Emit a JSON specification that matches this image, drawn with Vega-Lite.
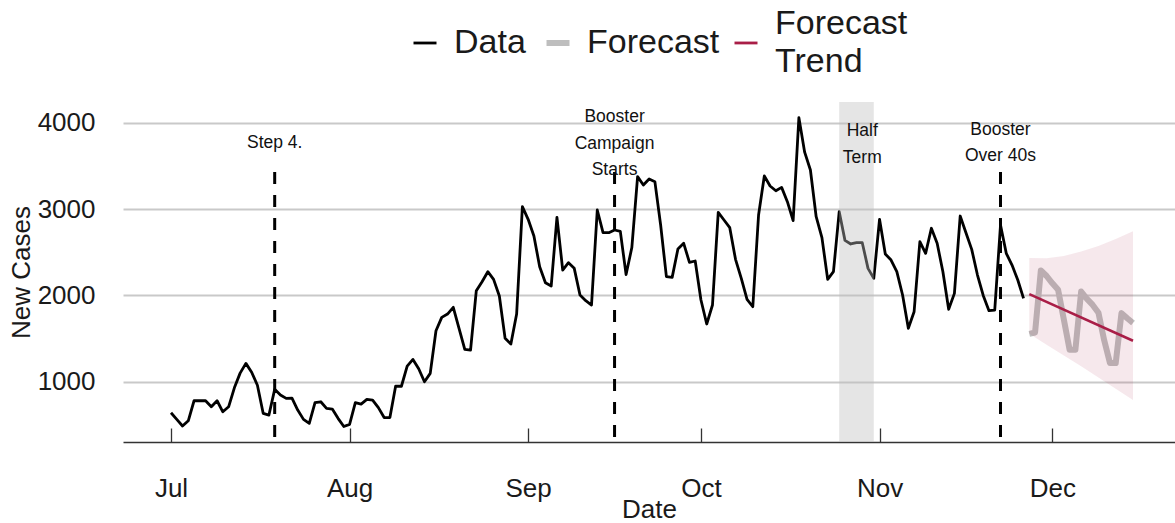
{
  "$schema": "https://vega.github.io/schema/vega-lite/v6.json",
  "width": 1052,
  "height": 340,
  "autosize": {"type": "none"},
  "padding": {"left": 123, "top": 102, "right": 0, "bottom": 81},
  "background": "white",
  "config": {
    "font": "Liberation Sans",
    "view": {"stroke": null},
    "axis": {"labelFont": "Liberation Sans", "titleFont": "Liberation Sans", "titleFontWeight": "normal", "labelColor": "#1a1a1a", "titleColor": "#1a1a1a"},
    "legend": {"labelFont": "Liberation Sans", "labelColor": "#1a1a1a"}
  },
  "datasets": {
    "lines": [
      {"date": "2021-07-01", "cases": 641, "series": "Data"},
      {"date": "2021-07-02", "cases": 565, "series": "Data"},
      {"date": "2021-07-03", "cases": 487, "series": "Data"},
      {"date": "2021-07-04", "cases": 548, "series": "Data"},
      {"date": "2021-07-05", "cases": 780, "series": "Data"},
      {"date": "2021-07-06", "cases": 780, "series": "Data"},
      {"date": "2021-07-07", "cases": 780, "series": "Data"},
      {"date": "2021-07-08", "cases": 710, "series": "Data"},
      {"date": "2021-07-09", "cases": 780, "series": "Data"},
      {"date": "2021-07-10", "cases": 652, "series": "Data"},
      {"date": "2021-07-11", "cases": 710, "series": "Data"},
      {"date": "2021-07-12", "cases": 930, "series": "Data"},
      {"date": "2021-07-13", "cases": 1100, "series": "Data"},
      {"date": "2021-07-14", "cases": 1213, "series": "Data"},
      {"date": "2021-07-15", "cases": 1110, "series": "Data"},
      {"date": "2021-07-16", "cases": 960, "series": "Data"},
      {"date": "2021-07-17", "cases": 634, "series": "Data"},
      {"date": "2021-07-18", "cases": 614, "series": "Data"},
      {"date": "2021-07-19", "cases": 912, "series": "Data"},
      {"date": "2021-07-20", "cases": 846, "series": "Data"},
      {"date": "2021-07-21", "cases": 807, "series": "Data"},
      {"date": "2021-07-22", "cases": 811, "series": "Data"},
      {"date": "2021-07-23", "cases": 672, "series": "Data"},
      {"date": "2021-07-24", "cases": 564, "series": "Data"},
      {"date": "2021-07-25", "cases": 518, "series": "Data"},
      {"date": "2021-07-26", "cases": 757, "series": "Data"},
      {"date": "2021-07-27", "cases": 768, "series": "Data"},
      {"date": "2021-07-28", "cases": 691, "series": "Data"},
      {"date": "2021-07-29", "cases": 684, "series": "Data"},
      {"date": "2021-07-30", "cases": 576, "series": "Data"},
      {"date": "2021-07-31", "cases": 481, "series": "Data"},
      {"date": "2021-08-01", "cases": 506, "series": "Data"},
      {"date": "2021-08-02", "cases": 757, "series": "Data"},
      {"date": "2021-08-03", "cases": 741, "series": "Data"},
      {"date": "2021-08-04", "cases": 796, "series": "Data"},
      {"date": "2021-08-05", "cases": 788, "series": "Data"},
      {"date": "2021-08-06", "cases": 700, "series": "Data"},
      {"date": "2021-08-07", "cases": 585, "series": "Data"},
      {"date": "2021-08-08", "cases": 585, "series": "Data"},
      {"date": "2021-08-09", "cases": 950, "series": "Data"},
      {"date": "2021-08-10", "cases": 948, "series": "Data"},
      {"date": "2021-08-11", "cases": 1180, "series": "Data"},
      {"date": "2021-08-12", "cases": 1259, "series": "Data"},
      {"date": "2021-08-13", "cases": 1150, "series": "Data"},
      {"date": "2021-08-14", "cases": 1000, "series": "Data"},
      {"date": "2021-08-15", "cases": 1097, "series": "Data"},
      {"date": "2021-08-16", "cases": 1591, "series": "Data"},
      {"date": "2021-08-17", "cases": 1746, "series": "Data"},
      {"date": "2021-08-18", "cases": 1784, "series": "Data"},
      {"date": "2021-08-19", "cases": 1862, "series": "Data"},
      {"date": "2021-08-20", "cases": 1619, "series": "Data"},
      {"date": "2021-08-21", "cases": 1375, "series": "Data"},
      {"date": "2021-08-22", "cases": 1367, "series": "Data"},
      {"date": "2021-08-23", "cases": 2055, "series": "Data"},
      {"date": "2021-08-24", "cases": 2159, "series": "Data"},
      {"date": "2021-08-25", "cases": 2275, "series": "Data"},
      {"date": "2021-08-26", "cases": 2186, "series": "Data"},
      {"date": "2021-08-27", "cases": 1993, "series": "Data"},
      {"date": "2021-08-28", "cases": 1503, "series": "Data"},
      {"date": "2021-08-29", "cases": 1437, "series": "Data"},
      {"date": "2021-08-30", "cases": 1784, "series": "Data"},
      {"date": "2021-08-31", "cases": 3028, "series": "Data"},
      {"date": "2021-09-01", "cases": 2882, "series": "Data"},
      {"date": "2021-09-02", "cases": 2688, "series": "Data"},
      {"date": "2021-09-03", "cases": 2333, "series": "Data"},
      {"date": "2021-09-04", "cases": 2147, "series": "Data"},
      {"date": "2021-09-05", "cases": 2109, "series": "Data"},
      {"date": "2021-09-06", "cases": 2905, "series": "Data"},
      {"date": "2021-09-07", "cases": 2294, "series": "Data"},
      {"date": "2021-09-08", "cases": 2379, "series": "Data"},
      {"date": "2021-09-09", "cases": 2314, "series": "Data"},
      {"date": "2021-09-10", "cases": 2005, "series": "Data"},
      {"date": "2021-09-11", "cases": 1939, "series": "Data"},
      {"date": "2021-09-12", "cases": 1889, "series": "Data"},
      {"date": "2021-09-13", "cases": 2990, "series": "Data"},
      {"date": "2021-09-14", "cases": 2727, "series": "Data"},
      {"date": "2021-09-15", "cases": 2727, "series": "Data"},
      {"date": "2021-09-16", "cases": 2758, "series": "Data"},
      {"date": "2021-09-17", "cases": 2742, "series": "Data"},
      {"date": "2021-09-18", "cases": 2242, "series": "Data"},
      {"date": "2021-09-19", "cases": 2555, "series": "Data"},
      {"date": "2021-09-20", "cases": 3376, "series": "Data"},
      {"date": "2021-09-21", "cases": 3279, "series": "Data"},
      {"date": "2021-09-22", "cases": 3349, "series": "Data"},
      {"date": "2021-09-23", "cases": 3318, "series": "Data"},
      {"date": "2021-09-24", "cases": 2816, "series": "Data"},
      {"date": "2021-09-25", "cases": 2217, "series": "Data"},
      {"date": "2021-09-26", "cases": 2209, "series": "Data"},
      {"date": "2021-09-27", "cases": 2538, "series": "Data"},
      {"date": "2021-09-28", "cases": 2604, "series": "Data"},
      {"date": "2021-09-29", "cases": 2383, "series": "Data"},
      {"date": "2021-09-30", "cases": 2399, "series": "Data"},
      {"date": "2021-10-01", "cases": 1947, "series": "Data"},
      {"date": "2021-10-02", "cases": 1669, "series": "Data"},
      {"date": "2021-10-03", "cases": 1889, "series": "Data"},
      {"date": "2021-10-04", "cases": 2963, "series": "Data"},
      {"date": "2021-10-05", "cases": 2874, "series": "Data"},
      {"date": "2021-10-06", "cases": 2785, "series": "Data"},
      {"date": "2021-10-07", "cases": 2418, "series": "Data"},
      {"date": "2021-10-08", "cases": 2198, "series": "Data"},
      {"date": "2021-10-09", "cases": 1955, "series": "Data"},
      {"date": "2021-10-10", "cases": 1869, "series": "Data"},
      {"date": "2021-10-11", "cases": 2932, "series": "Data"},
      {"date": "2021-10-12", "cases": 3384, "series": "Data"},
      {"date": "2021-10-13", "cases": 3268, "series": "Data"},
      {"date": "2021-10-14", "cases": 3213, "series": "Data"},
      {"date": "2021-10-15", "cases": 3252, "series": "Data"},
      {"date": "2021-10-16", "cases": 3086, "series": "Data"},
      {"date": "2021-10-17", "cases": 2866, "series": "Data"},
      {"date": "2021-10-18", "cases": 4060, "series": "Data"},
      {"date": "2021-10-19", "cases": 3660, "series": "Data"},
      {"date": "2021-10-20", "cases": 3453, "series": "Data"},
      {"date": "2021-10-21", "cases": 2912, "series": "Data"},
      {"date": "2021-10-22", "cases": 2670, "series": "Data"},
      {"date": "2021-10-23", "cases": 2186, "series": "Data"},
      {"date": "2021-10-24", "cases": 2275, "series": "Data"},
      {"date": "2021-10-25", "cases": 2970, "series": "Data"},
      {"date": "2021-10-26", "cases": 2638, "series": "Data"},
      {"date": "2021-10-27", "cases": 2596, "series": "Data"},
      {"date": "2021-10-28", "cases": 2611, "series": "Data"},
      {"date": "2021-10-29", "cases": 2611, "series": "Data"},
      {"date": "2021-10-30", "cases": 2314, "series": "Data"},
      {"date": "2021-10-31", "cases": 2198, "series": "Data"},
      {"date": "2021-11-01", "cases": 2882, "series": "Data"},
      {"date": "2021-11-02", "cases": 2480, "series": "Data"},
      {"date": "2021-11-03", "cases": 2410, "series": "Data"},
      {"date": "2021-11-04", "cases": 2275, "series": "Data"},
      {"date": "2021-11-05", "cases": 2005, "series": "Data"},
      {"date": "2021-11-06", "cases": 1619, "series": "Data"},
      {"date": "2021-11-07", "cases": 1811, "series": "Data"},
      {"date": "2021-11-08", "cases": 2622, "series": "Data"},
      {"date": "2021-11-09", "cases": 2488, "series": "Data"},
      {"date": "2021-11-10", "cases": 2778, "series": "Data"},
      {"date": "2021-11-11", "cases": 2604, "series": "Data"},
      {"date": "2021-11-12", "cases": 2275, "series": "Data"},
      {"date": "2021-11-13", "cases": 1839, "series": "Data"},
      {"date": "2021-11-14", "cases": 2024, "series": "Data"},
      {"date": "2021-11-15", "cases": 2920, "series": "Data"},
      {"date": "2021-11-16", "cases": 2727, "series": "Data"},
      {"date": "2021-11-17", "cases": 2534, "series": "Data"},
      {"date": "2021-11-18", "cases": 2236, "series": "Data"},
      {"date": "2021-11-19", "cases": 2000, "series": "Data"},
      {"date": "2021-11-20", "cases": 1823, "series": "Data"},
      {"date": "2021-11-21", "cases": 1831, "series": "Data"},
      {"date": "2021-11-22", "cases": 2816, "series": "Data"},
      {"date": "2021-11-23", "cases": 2488, "series": "Data"},
      {"date": "2021-11-24", "cases": 2352, "series": "Data"},
      {"date": "2021-11-25", "cases": 2179, "series": "Data"},
      {"date": "2021-11-26", "cases": 1966, "series": "Data"},
      {"date": "2021-11-27", "cases": 1555, "series": "Forecast"},
      {"date": "2021-11-28", "cases": 1570, "series": "Forecast"},
      {"date": "2021-11-29", "cases": 2290, "series": "Forecast"},
      {"date": "2021-11-30", "cases": 2225, "series": "Forecast"},
      {"date": "2021-12-01", "cases": 2140, "series": "Forecast"},
      {"date": "2021-12-02", "cases": 2065, "series": "Forecast"},
      {"date": "2021-12-03", "cases": 1720, "series": "Forecast"},
      {"date": "2021-12-04", "cases": 1370, "series": "Forecast"},
      {"date": "2021-12-05", "cases": 1370, "series": "Forecast"},
      {"date": "2021-12-06", "cases": 2045, "series": "Forecast"},
      {"date": "2021-12-07", "cases": 1960, "series": "Forecast"},
      {"date": "2021-12-08", "cases": 1890, "series": "Forecast"},
      {"date": "2021-12-09", "cases": 1800, "series": "Forecast"},
      {"date": "2021-12-10", "cases": 1480, "series": "Forecast"},
      {"date": "2021-12-11", "cases": 1216, "series": "Forecast"},
      {"date": "2021-12-12", "cases": 1216, "series": "Forecast"},
      {"date": "2021-12-13", "cases": 1795, "series": "Forecast"},
      {"date": "2021-12-14", "cases": 1735, "series": "Forecast"},
      {"date": "2021-12-15", "cases": 1680, "series": "Forecast"}
    ],
    "trend": [
      {"date": "2021-11-27", "cases": 2015, "series": "Forecast Trend"},
      {"date": "2021-12-15", "cases": 1475, "series": "Forecast Trend"}
    ],
    "band": [
      {"date": "2021-11-27", "lower": 1555, "upper": 2433},
      {"date": "2021-11-30", "lower": 1430, "upper": 2432},
      {"date": "2021-12-03", "lower": 1305, "upper": 2458},
      {"date": "2021-12-06", "lower": 1180, "upper": 2508},
      {"date": "2021-12-09", "lower": 1050, "upper": 2574},
      {"date": "2021-12-12", "lower": 920, "upper": 2655},
      {"date": "2021-12-15", "lower": 790, "upper": 2745}
    ],
    "halfterm": [
      {"start": "2021-10-25", "end": "2021-10-31", "low": 302, "high": 4241}
    ],
    "events": [
      {"date": "2021-07-19", "top": 3430, "base": 302},
      {"date": "2021-09-16", "top": 3430, "base": 302},
      {"date": "2021-11-22", "top": 3430, "base": 302}
    ],
    "notes": [
      {"date": "2021-07-19", "level": 3766, "label": "Step 4."},
      {"date": "2021-09-16", "level": 4067, "label": "Booster\nCampaign\nStarts"},
      {"date": "2021-10-29", "level": 3905, "label": "Half\nTerm"},
      {"date": "2021-11-22", "level": 3917, "label": "Booster\nOver 40s"}
    ]
  },
  "layer": [
    {
      "data": {"name": "lines"},
      "mark": {"type": "line", "strokeJoin": "round", "strokeCap": "butt"},
      "encoding": {
        "x": {
          "field": "date", "type": "temporal", "title": "Date",
          "scale": {"type": "utc", "domain": [
            {"year": 2021, "month": 6, "date": 22, "hours": 16, "utc": true},
            {"year": 2021, "month": 12, "date": 22, "hours": 7, "utc": true}
          ]},
          "axis": {
            "values": [
              {"year": 2021, "month": 7, "date": 1, "utc": true},
              {"year": 2021, "month": 8, "date": 1, "utc": true},
              {"year": 2021, "month": 9, "date": 1, "utc": true},
              {"year": 2021, "month": 10, "date": 1, "utc": true},
              {"year": 2021, "month": 11, "date": 1, "utc": true},
              {"year": 2021, "month": 12, "date": 1, "utc": true}
            ],
            "format": "%b", "grid": false,
            "domainColor": "#333333", "domainWidth": 1.3,
            "tickColor": "#333333", "tickWidth": 1.3, "tickSize": -14,
            "labelFontSize": 26, "labelPadding": 47, "labelFlush": false,
            "titleFontSize": 26, "titlePadding": -5
          }
        },
        "y": {
          "field": "cases", "type": "quantitative", "title": "New Cases",
          "scale": {"domain": [302, 4241], "nice": false, "zero": false},
          "axis": {
            "values": [1000, 2000, 3000, 4000], "format": "d",
            "grid": true, "gridColor": "#c9c9c9", "gridWidth": 2.2,
            "ticks": false, "domain": false,
            "labelFontSize": 26, "labelPadding": 28,
            "titleFontSize": 26, "titlePadding": 3
          }
        },
        "color": {
          "field": "series", "type": "nominal",
          "scale": {"domain": ["Data", "Forecast", "Forecast Trend"], "range": ["#000000", "#bebebe", "#a91e47"]},
          "legend": {
            "title": null, "orient": "none", "direction": "horizontal",
            "legendX": 285, "legendY": -95, "padding": 0,
            "symbolType": "stroke", "symbolSize": 529,
            "labelFontSize": 34, "labelOffset": 12, "columnPadding": 8, "labelLimit": 0,
            "labelExpr": "datum.label === 'Forecast Trend' ? ['Forecast', 'Trend'] : datum.label",
            "encode": {
              "symbols": {"update": {
                "strokeWidth": {"signal": "datum.value === 'Forecast' ? 6 : 2.8"},
                "shape": {"signal": "datum.value === 'Forecast Trend' ? 'M-1,1.65H1' : 'stroke'"}
              }},
              "labels": {"update": {
                "lineHeight": {"value": 38}
              }}
            }
          }
        },
        "strokeWidth": {
          "field": "series", "type": "nominal",
          "scale": {"type": "ordinal", "domain": ["Data", "Forecast", "Forecast Trend"], "range": [2.8, 6, 2.8]},
          "legend": null
        }
      }
    },
    {
      "data": {"name": "band"},
      "mark": {"type": "area", "color": "#a91e47", "opacity": 0.1},
      "encoding": {
        "x": {"field": "date", "type": "temporal"},
        "y": {"field": "upper", "type": "quantitative"},
        "y2": {"field": "lower"}
      }
    },
    {
      "data": {"name": "trend"},
      "mark": {"type": "line"},
      "encoding": {
        "x": {"field": "date", "type": "temporal"},
        "y": {"field": "cases", "type": "quantitative"},
        "color": {"field": "series", "type": "nominal"},
        "strokeWidth": {"field": "series", "type": "nominal", "legend": null}
      }
    },
    {
      "data": {"name": "halfterm"},
      "mark": {"type": "rect", "color": "#bebebe", "opacity": 0.4},
      "encoding": {
        "x": {"field": "start", "type": "temporal"},
        "x2": {"field": "end"},
        "y": {"field": "high", "type": "quantitative"},
        "y2": {"field": "low"}
      }
    },
    {
      "data": {"name": "events"},
      "mark": {"type": "rule", "color": "#000000", "strokeWidth": 3, "strokeDash": [12, 11]},
      "encoding": {
        "x": {"field": "date", "type": "temporal"},
        "y": {"field": "top", "type": "quantitative"},
        "y2": {"field": "base"}
      }
    },
    {
      "data": {"name": "notes"},
      "mark": {"type": "text", "font": "Liberation Sans", "fontSize": 17.5, "lineHeight": 26.5, "lineBreak": "\n", "align": "center", "baseline": "middle", "color": "#111111"},
      "encoding": {
        "x": {"field": "date", "type": "temporal"},
        "y": {"field": "level", "type": "quantitative"},
        "text": {"field": "label"}
      }
    }
  ]
}
